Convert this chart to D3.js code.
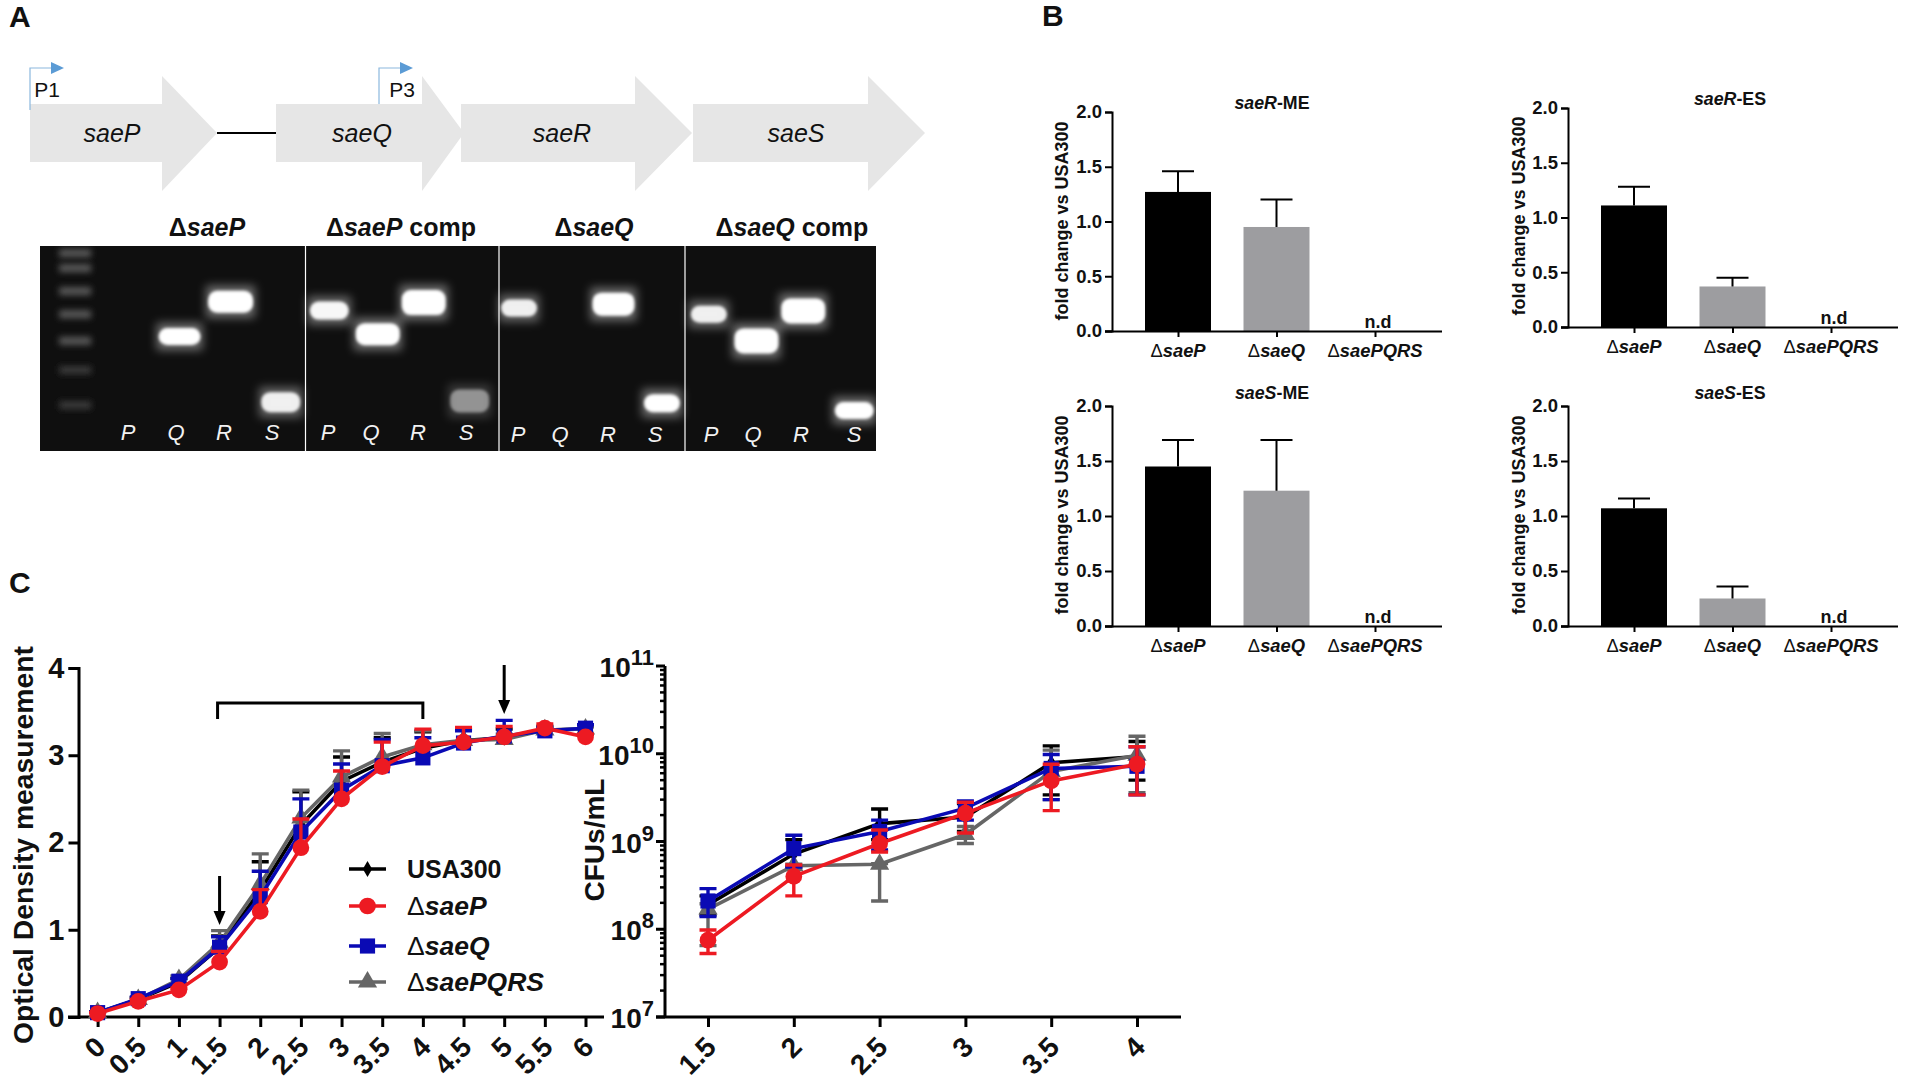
<!DOCTYPE html>
<html>
<head>
<meta charset="utf-8">
<script src="https://cdn.jsdelivr.net/npm/d3@7"></script>
<style>
  html, body { margin: 0; background: #fff; }
  svg { display: block; }
  text { font-family: "Liberation Sans", Arial, sans-serif; fill: #111; }
</style>
</head>
<body>
<svg width="1910" height="1086"></svg>
<script>
// --- panel A
const geneNames = ['saeP', 'saeQ', 'saeR', 'saeS'];
const gelHeaders = [['Δ', 'saeP', ''], ['Δ', 'saeP', ' comp'], ['Δ', 'saeQ', ''], ['Δ', 'saeQ', ' comp']];
const gelLaneLetters = ['P', 'Q', 'R', 'S', 'P', 'Q', 'R', 'S', 'P', 'Q', 'R', 'S', 'P', 'Q', 'R', 'S'];
// band position across the gel and how far it ran, both in % of the gel
const gelBandLane = [16.7, 22.8, 28.8, 34.6, 40.4, 45.9, 51.4, 57.3, 68.6, 74.4, 80, 85.7, 91.3, 97.4];
const gelBandRun = [44.2, 27.2, 76.2, 31.5, 43, 27.6, 75.6, 30.3, 28.4, 76.7, 33.3, 46.3, 31.7, 80.3];
const gelBandGlow = [1, 1, 0.9, 0.95, 1, 1, 0.45, 0.9, 1, 1, 0.9, 1, 1, 1];
const gelBandSpreadX = [42, 45, 39, 39, 44, 44, 39, 36, 42, 36, 36, 44, 44, 39];
const gelBandSpreadY = [17, 22, 20, 18, 22, 25, 23, 17, 23, 18, 17, 25, 25, 17];
const ladderRun = [3.5, 10.8, 22, 33.3, 46.3, 60.5, 77.6];

// --- panel B
const barStrains = ['saeP', 'saeQ', 'saePQRS'];
const barTitles = [['saeR', '-ME'], ['saeR', '-ES'], ['saeS', '-ME'], ['saeS', '-ES']];
const barMeans = [[1.27, 0.95, 0], [1.11, 0.37, 0], [1.45, 1.23, 0], [1.07, 0.25, 0]];
const barTops = [[1.46, 1.20, null], [1.28, 0.45, null], [1.69, 1.69, null], [1.16, 0.36, null]];
const barTicks = [0, 0.5, 1, 1.5, 2];

// --- panel C
const odHours = [0, 0.5, 1, 1.5, 2, 2.5, 3, 3.5, 4, 4.5, 5, 5.5, 6];
const odUSA300 = [0.05, 0.20, 0.40, 0.80, 1.45, 2.20, 2.70, 2.92, 3.08, 3.17, 3.20, 3.29, 3.30];
const odSaeP = [0.04, 0.18, 0.31, 0.63, 1.21, 1.94, 2.50, 2.87, 3.11, 3.15, 3.21, 3.31, 3.21];
const odSaeQ = [0.05, 0.21, 0.41, 0.80, 1.38, 2.12, 2.60, 2.88, 2.97, 3.14, 3.22, 3.28, 3.31];
const odPQRS = [0.05, 0.20, 0.43, 0.85, 1.52, 2.28, 2.75, 2.98, 3.12, 3.17, 3.18, 3.29, 3.30];
const odTopUSA300 = [0.06, 0.22, 0.44, 0.93, 1.78, 2.58, 2.98, 3.20, 3.27, 3.30, 3.30, 3.33, 3.33];
const odTopSaeP = [0.05, 0.20, 0.33, 0.75, 1.46, 2.27, 2.82, 3.15, 3.30, 3.32, 3.33, 3.36, 3.24];
const odTopSaeQ = [0.06, 0.23, 0.44, 0.92, 1.67, 2.50, 2.90, 3.18, 3.20, 3.28, 3.40, 3.32, 3.35];
const odTopPQRS = [0.06, 0.22, 0.47, 0.99, 1.87, 2.60, 3.05, 3.25, 3.28, 3.30, 3.24, 3.33, 3.33];
const odTicks = [0, 1, 2, 3, 4];

const cfuHours = [1.5, 2, 2.5, 3, 3.5, 4];
const cfuUSA300 = [1.9e8, 7.2e8, 1.6e9, 1.9e9, 7.9e9, 9.3e9];
const cfuSaeP = [7.5e7, 4.0e8, 9.5e8, 2.1e9, 4.9e9, 7.6e9];
const cfuSaeQ = [2.1e8, 8.3e8, 1.3e9, 2.4e9, 6.8e9, 7.2e9];
const cfuPQRS = [1.7e8, 5.3e8, 5.5e8, 1.2e9, 6.3e9, 9.6e9];
const cfuHiUSA300 = [2.4e8, 1.05e9, 2.35e9, 2.7e9, 1.23e10, 1.38e10];
const cfuLoUSA300 = [1.45e8, 5.1e8, 1.05e9, 1.3e9, 3.4e9, 5.0e9];
const cfuHiSaeP = [9.8e7, 5.4e8, 1.35e9, 2.8e9, 7.6e9, 1.2e10];
const cfuLoSaeP = [5.3e7, 2.4e8, 7.6e8, 1.25e9, 2.25e9, 3.4e9];
const cfuHiSaeQ = [2.9e8, 1.18e9, 1.75e9, 2.9e9, 9.8e9, 1.2e10];
const cfuLoSaeQ = [1.4e8, 5.1e8, 8.0e8, 1.75e9, 3.0e9, 3.4e9];
const cfuHiPQRS = [1.95e8, 5.5e8, 5.6e8, 1.48e9, 1.1e10, 1.58e10];
const cfuLoPQRS = [6.5e7, 5.0e8, 2.1e8, 9.5e8, 3.0e9, 3.6e9];
const cfuDecades = [7, 8, 9, 10, 11];

const seriesNames = ['USA300', 'saeP', 'saeQ', 'saePQRS'];
const seriesColors = ['#000000', '#ed1a22', '#0a0ab4', '#666666'];
const seriesMarkers = [d3.symbolDiamond, d3.symbolCircle, d3.symbolSquare, d3.symbolTriangle];
const markerSizes = [75, 220, 230, 160];
const drawOrder = [0, 3, 2, 1];

const svg = d3.select('svg');

// text made of plain and italic runs: [[string, italic], ...]
function richText(g, x, y, runs, opts) {
  const t = g.append('text')
    .attr('x', x).attr('y', y)
    .attr('text-anchor', opts.anchor || 'middle')
    .attr('dominant-baseline', 'central')
    .attr('font-size', opts.size)
    .attr('font-weight', opts.weight || 'normal');
  if (opts.rotate) t.attr('transform', `rotate(${opts.rotate} ${x} ${y})`);
  if (opts.fill) t.style('fill', opts.fill);
  runs.forEach(r => {
    if (!r[0]) return;
    const s = t.append('tspan').text(r[0]).attr('font-style', r[1] ? 'italic' : 'normal');
    if (r[2]) s.attr('font-weight', r[2]);
  });
  return t;
}

// ---------- panel A
richText(svg, 9, 16, [['A']], {anchor: 'start', size: 30, weight: 'bold'});

const defs = svg.append('defs');
defs.append('filter').attr('id', 'b1').attr('x', '-50%').attr('y', '-100%').attr('width', '200%').attr('height', '300%')
  .append('feGaussianBlur').attr('stdDeviation', 1.6);
defs.append('filter').attr('id', 'b2').attr('x', '-60%').attr('y', '-150%').attr('width', '220%').attr('height', '400%')
  .append('feGaussianBlur').attr('stdDeviation', 5);
defs.append('filter').attr('id', 'b3').attr('x', '-30%').attr('y', '-150%').attr('width', '160%').attr('height', '400%')
  .append('feGaussianBlur').attr('stdDeviation', 3);

const geneStart = [30, 276, 461, 693];
const geneHead = [162, 422, 635, 868];
const geneTip = [217, 464, 692, 925];
const geneLabelX = [112, 362, 562, 796];
const gA = svg.append('g');

gA.append('line').attr('x1', 217).attr('x2', 276).attr('y1', 133).attr('y2', 133)
  .attr('stroke', '#000').attr('stroke-width', 2);

gA.selectAll('path.gene').data(geneNames).join('path')
  .attr('class', 'gene')
  .attr('fill', '#e6e6e6')
  .attr('d', (d, i) => `M${geneStart[i]},104 H${geneHead[i]} V76 L${geneTip[i]},133 L${geneHead[i]},191 V162 H${geneStart[i]} Z`);

// white boxes behind the promoter labels
gA.append('rect').attr('x', 379).attr('y', 66).attr('width', 43).attr('height', 38).attr('fill', '#fff');

[[30, 'P1', 110, 47], [379, 'P3', 104, 402]].forEach(p => {
  const x = p[0];
  gA.append('path').attr('fill', 'none').attr('stroke', '#8bb8de').attr('stroke-width', 1.2)
    .attr('d', `M${x},${p[2]} V68 H${x + 22}`);
  gA.append('path').attr('fill', '#5b9bd5').attr('d', `M${x + 21},62 L${x + 34},68 L${x + 21},74 Z`);
  richText(gA, p[3], 89, [[p[1]]], {size: 21});
});

geneNames.forEach((g, i) => {
  richText(gA, geneLabelX[i], 133, [[g, true]], {size: 25});
});

const gelX = d3.scaleLinear([0, 100], [40, 876]);
const gelY = d3.scaleLinear([0, 100], [246, 451]);

const headerX = [207, 401, 594, 792];
gelHeaders.forEach((h, i) => {
  richText(gA, headerX[i], 227, [[h[0]], [h[1], true], [h[2]]], {size: 25, weight: 'bold'});
});

gA.append('rect').attr('x', gelX(0)).attr('y', gelY(0))
  .attr('width', gelX(100) - gelX(0)).attr('height', gelY(100) - gelY(0)).attr('fill', '#0f0f0f');

const gelClip = defs.append('clipPath').attr('id', 'gelClip');
gelClip.append('rect').attr('x', gelX(0)).attr('y', gelY(0))
  .attr('width', gelX(100) - gelX(0)).attr('height', gelY(100) - gelY(0));
const gelG = gA.append('g').attr('clip-path', 'url(#gelClip)');

gelG.selectAll('rect.ladder').data(ladderRun).join('rect')
  .attr('class', 'ladder')
  .attr('x', gelX(4.2) - 16).attr('width', 32)
  .attr('y', d => gelY(d) - 4).attr('height', 8)
  .attr('fill', (d, i) => i < 5 ? '#5a5a5a' : '#3a3a3a')
  .attr('filter', 'url(#b3)');

// halo first, then the saturated core of each band
gelG.selectAll('rect.halo').data(gelBandLane).join('rect')
  .attr('class', 'halo')
  .attr('x', (d, i) => gelX(d) - gelBandSpreadX[i] / 2 - 2).attr('width', (d, i) => gelBandSpreadX[i] + 4)
  .attr('y', (d, i) => gelY(gelBandRun[i]) - gelBandSpreadY[i] / 2 - 5).attr('height', (d, i) => gelBandSpreadY[i] + 10)
  .attr('fill', '#fff').attr('opacity', (d, i) => 0.4 * gelBandGlow[i])
  .attr('filter', 'url(#b2)');

gelG.selectAll('rect.band').data(gelBandLane).join('rect')
  .attr('class', 'band')
  .attr('x', (d, i) => gelX(d) - gelBandSpreadX[i] / 2).attr('width', (d, i) => gelBandSpreadX[i])
  .attr('y', (d, i) => gelY(gelBandRun[i]) - gelBandSpreadY[i] / 2).attr('height', (d, i) => gelBandSpreadY[i])
  .attr('rx', 9)
  .attr('fill', '#fff').attr('opacity', (d, i) => gelBandGlow[i])
  .attr('filter', 'url(#b1)');

[305.5, 499, 685].forEach(x => {
  gA.append('line').attr('x1', x).attr('x2', x).attr('y1', gelY(0)).attr('y2', gelY(100))
    .attr('stroke', '#fff').attr('stroke-width', 1.2);
});

const laneTextX = [128, 176, 224, 272, 328, 371, 418, 466, 518, 560, 608, 655, 711, 753, 801, 854];
gelLaneLetters.forEach((l, i) => {
  richText(gA, laneTextX[i], i < 8 ? 432 : 434, [[l, true]], {size: 22, fill: '#f2f2f2'});
});

// ---------- panel B
richText(svg, 1042, 15, [['B']], {anchor: 'start', size: 30, weight: 'bold'});

const barLayout = [
  {x0: 1112, x1: 1442, top: 112, bottom: 331, titleY: 103, tx: 1272, lx: 1062, ly: 221},
  {x0: 1568, x1: 1898, top: 108, bottom: 327, titleY: 99, tx: 1730, lx: 1519, ly: 216},
  {x0: 1112, x1: 1442, top: 406, bottom: 626, titleY: 393, tx: 1272, lx: 1062, ly: 515},
  {x0: 1568, x1: 1898, top: 406, bottom: 626, titleY: 393, tx: 1730, lx: 1519, ly: 515}
];

barLayout.forEach((L, p) => {
  const g = svg.append('g');
  const y = d3.scaleLinear([0, 2], [L.bottom, L.top]);
  const x = d3.scalePoint(barStrains, [L.x0 + 66, L.x0 + 263]);

  g.selectAll('rect').data(barStrains).join('rect')
    .attr('x', d => x(d) - 33).attr('width', 66)
    .attr('y', (d, i) => y(barMeans[p][i]))
    .attr('height', (d, i) => L.bottom - y(barMeans[p][i]))
    .attr('fill', (d, i) => i === 0 ? '#000' : '#9d9da0');

  barStrains.forEach((s, i) => {
    const top = barTops[p][i];
    if (top === null) return;
    const cx = x(s);
    g.append('path').attr('fill', 'none').attr('stroke', '#000').attr('stroke-width', 2)
      .attr('d', `M${cx},${y(barMeans[p][i])} V${y(top)} M${cx - 16},${y(top)} H${cx + 16}`);
  });

  const yAxis = g.append('g').attr('transform', `translate(${L.x0},0)`)
    .call(d3.axisLeft(y).tickValues(barTicks).tickFormat(d3.format('.1f')).tickSize(7));
  yAxis.selectAll('path,line').attr('stroke', '#000').attr('stroke-width', 2);
  yAxis.selectAll('text').attr('font-size', 18.5).attr('font-weight', 'bold').attr('font-family', null);

  const xAxis = g.append('g').attr('transform', `translate(0,${L.bottom})`)
    .call(d3.axisBottom(x).tickSize(6).tickFormat(''));
  xAxis.select('.domain').attr('d', `M${L.x0 - 7},0.5 H${L.x1}`).attr('stroke', '#000').attr('stroke-width', 2);
  xAxis.selectAll('line').attr('stroke', '#000').attr('stroke-width', 2);

  barStrains.forEach(s => {
    richText(g, x(s), L.bottom + 19, [['Δ', false, 'normal'], [s, true]], {size: 18.4, weight: 'bold'});
  });

  richText(g, x('saePQRS') + 3, L.bottom - 9, [['n.d']], {size: 18, weight: 'bold'});
  richText(g, L.tx, L.titleY, [[barTitles[p][0], true], [barTitles[p][1]]], {size: 17.8, weight: 'bold'});
  richText(g, L.lx, L.ly, [['fold change vs USA300']], {size: 18, weight: 'bold', rotate: -90});
});

// ---------- panel C
richText(svg, 9, 582, [['C']], {anchor: 'start', size: 30, weight: 'bold'});

function drawSeries(g, x, y, xs, means, tops, lows) {
  drawOrder.forEach(s => {
    const color = seriesColors[s];
    const line = d3.line().x((d, i) => x(xs[i])).y(d => y(d));
    means[s].forEach((m, i) => {
      const cx = x(xs[i]);
      const capUp = y(tops[s][i]);
      let d = `M${cx},${y(m)} V${capUp} M${cx - 8.5},${capUp} H${cx + 8.5}`;
      if (lows) {
        const capLo = y(lows[s][i]);
        d += ` M${cx},${y(m)} V${capLo} M${cx - 8.5},${capLo} H${cx + 8.5}`;
      }
      g.append('path').attr('d', d).attr('fill', 'none').attr('stroke', color).attr('stroke-width', 3.4);
    });
    g.append('path').attr('d', line(means[s])).attr('fill', 'none')
      .attr('stroke', color).attr('stroke-width', 3.6);
    g.selectAll(null).data(means[s]).join('path')
      .attr('d', d3.symbol(seriesMarkers[s], markerSizes[s]))
      .attr('transform', (d, i) => `translate(${x(xs[i])},${y(d)})`)
      .attr('fill', color);
  });
}

function rotatedLabels(g, x, labels, yAnchor) {
  labels.forEach(v => {
    const px = x(v) + 3;
    g.append('text')
      .attr('x', px).attr('y', yAnchor)
      .attr('text-anchor', 'end')
      .attr('dominant-baseline', 'central')
      .attr('font-size', 28).attr('font-weight', 'bold')
      .attr('transform', `rotate(-45 ${px} ${yAnchor})`)
      .text(v);
  });
}

// growth curve
const gOD = svg.append('g');
const xOD = d3.scalePoint(odHours, [97.6, 585.5]);
const yOD = d3.scaleLinear([0, 4], [1017, 668]);

const odAxisY = gOD.append('g').attr('transform', 'translate(78.5,0)')
  .call(d3.axisLeft(yOD).tickValues(odTicks).tickFormat(d3.format('d')).tickSize(10));
odAxisY.selectAll('path,line').attr('stroke', '#000').attr('stroke-width', 3);
odAxisY.selectAll('text').attr('font-size', 29).attr('font-weight', 'bold').attr('font-family', null).attr('dx', -1);

const odAxisX = gOD.append('g').attr('transform', 'translate(0,1017)')
  .call(d3.axisBottom(xOD).tickSize(10).tickFormat(''));
odAxisX.select('.domain').attr('d', 'M68,0 H604').attr('stroke', '#000').attr('stroke-width', 3);
odAxisX.selectAll('line').attr('stroke', '#000').attr('stroke-width', 3);
rotatedLabels(gOD, xOD, odHours, 1042);

richText(gOD, 23, 845, [['Optical Density measurement']], {size: 28.3, weight: 'bold', rotate: -90});

drawSeries(gOD, xOD, yOD, odHours,
  [odUSA300, odSaeP, odSaeQ, odPQRS],
  [odTopUSA300, odTopSaeP, odTopSaeQ, odTopPQRS], null);

// bracket and arrows over the curve
gOD.append('path').attr('fill', 'none').attr('stroke', '#000').attr('stroke-width', 3)
  .attr('d', `M${xOD(1.5) - 2},719 V703 H${xOD(4)} V719`);
[[xOD(1.5), 876, 925], [xOD(5), 665, 714]].forEach(a => {
  gOD.append('line').attr('x1', a[0]).attr('x2', a[0]).attr('y1', a[1]).attr('y2', a[2] - 10)
    .attr('stroke', '#000').attr('stroke-width', 3);
  gOD.append('path').attr('fill', '#000').attr('d', `M${a[0] - 6},${a[2] - 14} H${a[0] + 6} L${a[0]},${a[2]} Z`);
});

// legend
const legendY = [869, 906, 946, 982];
seriesNames.forEach((n, i) => {
  gOD.append('line').attr('x1', 349).attr('x2', 386).attr('y1', legendY[i]).attr('y2', legendY[i])
    .attr('stroke', seriesColors[i]).attr('stroke-width', 3.6);
  gOD.append('path').attr('d', d3.symbol(seriesMarkers[i], markerSizes[i]))
    .attr('transform', `translate(367.5,${legendY[i]})`).attr('fill', seriesColors[i]);
  const runs = i === 0 ? [[n]] : [['Δ', false, 'normal'], [n, true]];
  richText(gOD, 407, legendY[i], runs, {anchor: 'start', size: i === 0 ? 25 : 26.5, weight: 'bold'});
});

// CFU counts
const gCFU = svg.append('g');
const xCFU = d3.scalePoint(cfuHours, [708, 1137]);
const yCFU = d3.scaleLog([1e7, 1e11], [1017, 666]);

const cfuAxisY = gCFU.append('g').attr('transform', 'translate(665,0)');
cfuAxisY.append('line').attr('y1', 666).attr('y2', 1017).attr('stroke', '#000').attr('stroke-width', 3);
cfuDecades.forEach(e => {
  const py = yCFU(Math.pow(10, e));
  cfuAxisY.append('line').attr('x1', -9).attr('x2', 0).attr('y1', py).attr('y2', py)
    .attr('stroke', '#000').attr('stroke-width', 3);
  if (e < 11) {
    d3.range(2, 10).forEach(m => {
      const my = yCFU(m * Math.pow(10, e));
      cfuAxisY.append('line').attr('x1', -5).attr('x2', 0).attr('y1', my).attr('y2', my)
        .attr('stroke', '#000').attr('stroke-width', 2.5);
    });
  }
  const t = cfuAxisY.append('text').attr('x', -11).attr('y', py + 11)
    .attr('text-anchor', 'end').attr('font-weight', 'bold').attr('font-size', 28);
  t.append('tspan').text('10');
  t.append('tspan').text(e).attr('font-size', 22).attr('dy', -12);
});

const cfuAxisX = gCFU.append('g').attr('transform', 'translate(0,1017)')
  .call(d3.axisBottom(xCFU).tickSize(10).tickFormat(''));
cfuAxisX.select('.domain').attr('d', 'M656,0 H1181').attr('stroke', '#000').attr('stroke-width', 3);
cfuAxisX.selectAll('line').attr('stroke', '#000').attr('stroke-width', 3);
rotatedLabels(gCFU, xCFU, cfuHours, 1042);

richText(gCFU, 594, 840, [['CFUs/mL']], {size: 28, weight: 'bold', rotate: -90});

drawSeries(gCFU, xCFU, yCFU, cfuHours,
  [cfuUSA300, cfuSaeP, cfuSaeQ, cfuPQRS],
  [cfuHiUSA300, cfuHiSaeP, cfuHiSaeQ, cfuHiPQRS],
  [cfuLoUSA300, cfuLoSaeP, cfuLoSaeQ, cfuLoPQRS]);
</script>
</body>
</html>
